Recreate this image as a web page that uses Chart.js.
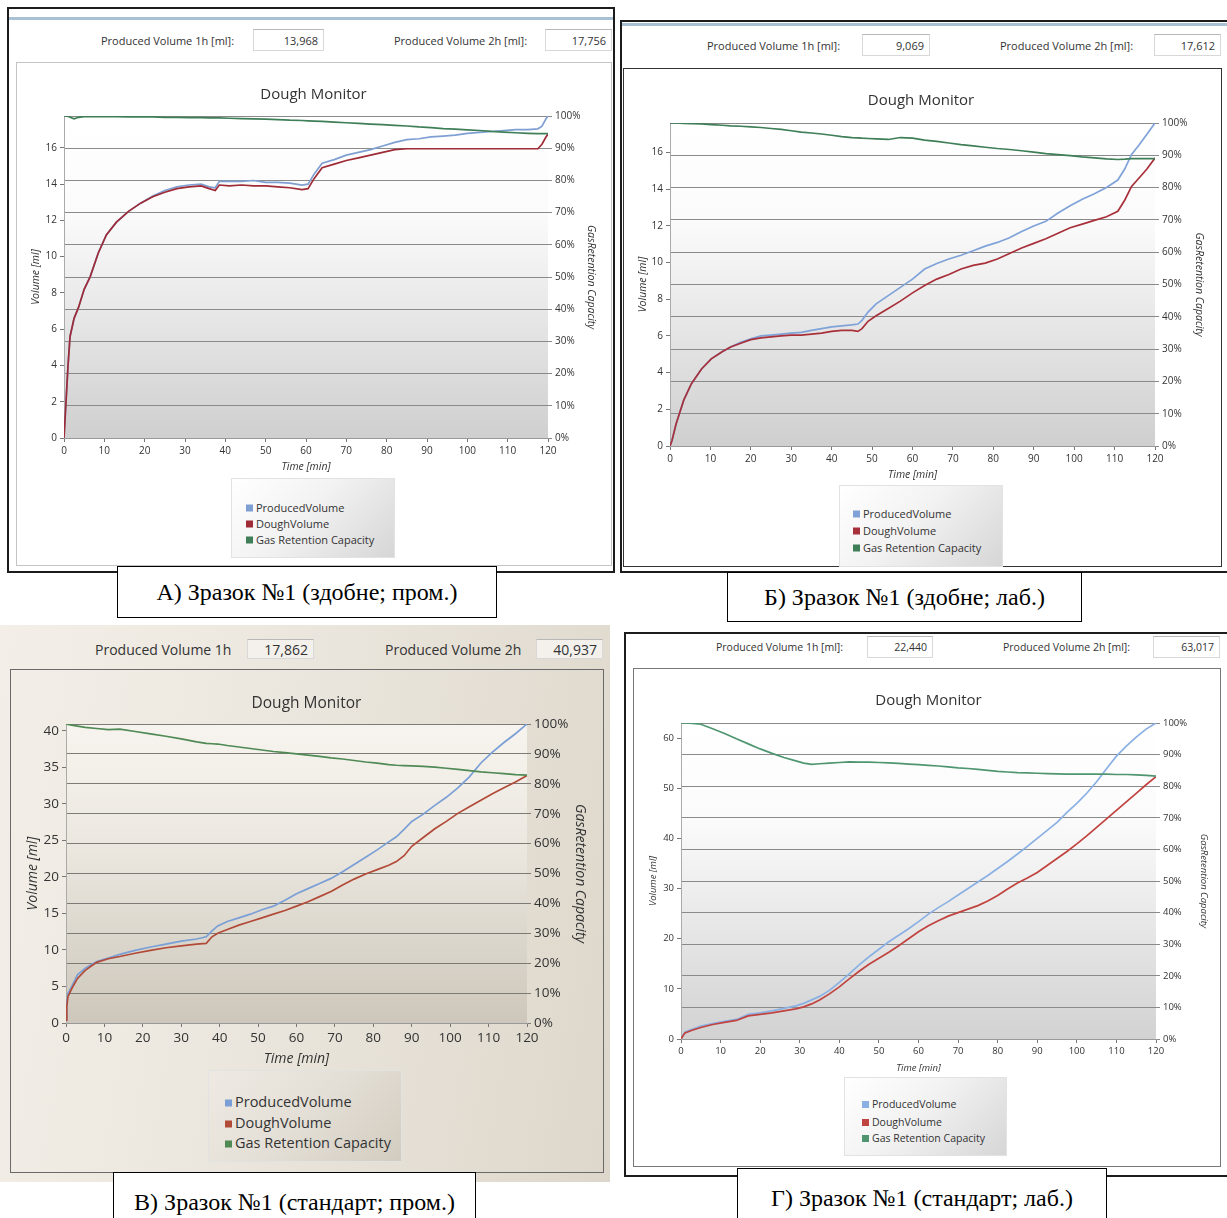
<!DOCTYPE html>
<html>
<head>
<meta charset="utf-8">
<script src="https://cdn.jsdelivr.net/npm/chart.js@4.4.1/dist/chart.umd.min.js"></script>
<style>
  body { margin: 0; width: 1227px; height: 1218px; position: relative; overflow: hidden; background: #fff; font-family: "Open Sans", sans-serif; }
  .box { position: absolute; box-sizing: border-box; }
  .hdr { position: absolute; white-space: nowrap; transform: translateY(-50%); color: #333; }
  .val { position: absolute; box-sizing: border-box; display: flex; align-items: center; justify-content: flex-end; padding-right: 5px; color: #333; }
  .legend { position: absolute; box-sizing: border-box; background: linear-gradient(135deg, #ffffff 0%, #f2f2f2 45%, #d6d6d6 100%); border: 1px solid #e2e2e2; }
  .legend div { position: absolute; white-space: nowrap; transform: translateY(-50%); }
  .legend span { display: inline-block; width: 7px; height: 7px; margin-right: 3px; vertical-align: 0; }
  .caption { position: absolute; box-sizing: border-box; background: #fff; border: 1.5px solid #000; font-family: "Liberation Serif", "Times New Roman", serif; color: #000; display: flex; align-items: center; justify-content: center; white-space: nowrap; }
  canvas { position: absolute; }
</style>
</head>
<body>
<script>
// ---- data ----
const aMinutes  = [0, 0.4, 1, 1.5, 2.5, 3.6, 5, 6.5, 8.5, 10.5, 13, 16, 19, 22, 25, 28, 31, 34, 36, 37.5, 38.5, 41, 44, 47, 50, 53, 56, 59, 60.5, 62, 64, 67, 70, 73, 76, 79, 82, 85, 88, 91, 94, 97, 100, 103, 106, 109, 112, 115, 117.5, 118.5, 119.5, 120];
const aProduced = [0, 1.6, 4.0, 5.6, 6.6, 7.2, 8.2, 8.9, 10.2, 11.2, 11.9, 12.5, 12.95, 13.35, 13.65, 13.85, 13.95, 14.0, 13.85, 13.8, 14.15, 14.15, 14.15, 14.2, 14.1, 14.1, 14.05, 13.95, 14.0, 14.55, 15.15, 15.35, 15.6, 15.75, 15.9, 16.1, 16.3, 16.45, 16.5, 16.6, 16.65, 16.7, 16.8, 16.85, 16.9, 16.95, 17.0, 17.0, 17.05, 17.2, 17.6, 17.756];
const aDough    = [0, 1.6, 4.0, 5.6, 6.6, 7.2, 8.2, 8.9, 10.2, 11.2, 11.9, 12.5, 12.95, 13.3, 13.55, 13.75, 13.85, 13.9, 13.75, 13.65, 13.95, 13.9, 13.95, 13.9, 13.9, 13.85, 13.8, 13.7, 13.75, 14.3, 14.9, 15.1, 15.3, 15.45, 15.6, 15.75, 15.9, 15.95, 15.95, 15.95, 15.95, 15.95, 15.95, 15.95, 15.95, 15.95, 15.95, 15.95, 15.95, 16.2, 16.6, 16.75];
const aGas      = [100, 100, 99.9, 99.6, 99.1, 99.6, 99.8, 99.8, 99.8, 99.8, 99.8, 99.7, 99.7, 99.7, 99.6, 99.6, 99.5, 99.5, 99.4, 99.4, 99.4, 99.3, 99.2, 99.1, 99.0, 98.9, 98.7, 98.6, 98.5, 98.4, 98.3, 98.1, 97.9, 97.7, 97.5, 97.3, 97.1, 96.9, 96.6, 96.4, 96.1, 95.9, 95.7, 95.5, 95.2, 95.0, 94.8, 94.6, 94.5, 94.5, 94.5, 94.5];
const aHeader   = ["13,968", "17,756"];

const bMinutes  = [0, 0.5, 1.5, 3.4, 5.3, 7.8, 10.2, 13, 15, 17.5, 20, 22.5, 25, 27.5, 30, 32.5, 35, 37.5, 40, 42.5, 45, 46.5, 47.5, 49, 51, 54, 57, 60, 63, 66, 69, 72, 75, 78, 81, 84, 87, 90, 93, 96, 99, 102, 105, 108, 110.8, 112.5, 114.2, 116, 118, 120];
const bProduced = [0, 0.3, 1.2, 2.5, 3.4, 4.2, 4.75, 5.15, 5.4, 5.65, 5.85, 6.0, 6.05, 6.1, 6.15, 6.2, 6.3, 6.4, 6.5, 6.55, 6.6, 6.65, 6.85, 7.3, 7.75, 8.2, 8.65, 9.1, 9.65, 9.95, 10.2, 10.4, 10.65, 10.9, 11.1, 11.35, 11.7, 12.0, 12.25, 12.7, 13.1, 13.45, 13.75, 14.1, 14.5, 15.1, 15.9, 16.4, 17.0, 17.612];
const bDough    = [0, 0.3, 1.2, 2.5, 3.4, 4.2, 4.75, 5.15, 5.4, 5.6, 5.8, 5.9, 5.95, 6.0, 6.05, 6.05, 6.1, 6.15, 6.25, 6.3, 6.3, 6.25, 6.4, 6.8, 7.1, 7.5, 7.9, 8.35, 8.75, 9.1, 9.35, 9.65, 9.85, 9.97, 10.2, 10.5, 10.8, 11.05, 11.3, 11.6, 11.9, 12.1, 12.3, 12.5, 12.8, 13.4, 14.15, 14.6, 15.1, 15.7];
const bGas      = [100, 100, 100, 99.9, 99.8, 99.7, 99.5, 99.3, 99.1, 99.0, 98.8, 98.6, 98.3, 98.0, 97.6, 97.2, 96.9, 96.6, 96.2, 95.8, 95.5, 95.4, 95.3, 95.2, 95.1, 94.9, 95.5, 95.3, 94.7, 94.3, 93.8, 93.3, 92.9, 92.5, 92.1, 91.8, 91.4, 91.0, 90.5, 90.2, 89.9, 89.5, 89.2, 88.9, 88.7, 88.8, 89.0, 89.0, 89.0, 89.0];
const bHeader   = ["9,069", "17,612"];

const cMinutes  = [0, 0.2, 0.5, 1.5, 3, 5, 8, 11, 14, 18, 22, 26, 30, 34, 36.5, 38, 39.5, 42, 45, 48, 51, 54, 57, 60, 63, 66, 69, 72, 75, 78, 81, 84, 86, 88, 90, 93, 96, 99, 102, 105, 108, 111, 114, 117, 120];
const cProduced = [0.5, 2.7, 4.0, 5.0, 6.6, 7.5, 8.4, 8.9, 9.4, 9.95, 10.4, 10.8, 11.2, 11.5, 11.8, 12.6, 13.3, 13.9, 14.4, 14.9, 15.5, 16.0, 16.8, 17.7, 18.4, 19.1, 19.8, 20.7, 21.7, 22.7, 23.7, 24.8, 25.5, 26.5, 27.6, 28.6, 29.8, 30.9, 32.2, 33.7, 35.6, 37.1, 38.4, 39.6, 40.937];
const cDough    = [0.4, 2.2, 3.6, 4.7, 6.1, 7.2, 8.3, 8.8, 9.1, 9.55, 9.95, 10.3, 10.55, 10.8, 10.9, 11.8, 12.3, 12.8, 13.4, 13.9, 14.4, 14.9, 15.4, 16.0, 16.6, 17.3, 18.0, 18.9, 19.7, 20.4, 21.0, 21.6, 22.1, 22.9, 24.2, 25.4, 26.6, 27.6, 28.7, 29.6, 30.5, 31.4, 32.2, 33.0, 33.9];
const cGas      = [100, 100, 99.9, 99.6, 99.3, 98.9, 98.5, 98.1, 98.3, 97.5, 96.7, 95.9, 95.0, 94.0, 93.5, 93.4, 93.3, 92.8, 92.3, 91.8, 91.3, 90.8, 90.4, 90.0, 89.6, 89.2, 88.7, 88.3, 87.8, 87.3, 86.9, 86.4, 86.2, 86.1, 86.0, 85.8, 85.6, 85.2, 84.8, 84.4, 84.0, 83.7, 83.4, 83.1, 82.9];
const cHeader   = ["17,862", "40,937"];

const dMinutes  = [0, 0.3, 1, 3, 5, 8, 11, 14, 17, 20, 23, 26, 29, 31, 33, 35, 37.5, 40, 42.5, 45, 47.5, 50, 52.5, 55, 57.5, 60, 62.5, 65, 67.5, 70, 72.5, 75, 77.5, 80, 82.5, 85, 87.5, 90, 92.5, 95, 97.5, 100, 102.5, 105, 107.5, 110, 112.5, 115, 117.5, 120];
const dProduced = [0, 0.4, 1.4, 2.0, 2.6, 3.05, 3.5, 3.9, 4.9, 5.2, 5.6, 6.1, 6.6, 7.1, 7.8, 8.5, 9.7, 11.3, 13.0, 14.8, 16.4, 17.9, 19.4, 20.7, 22.0, 23.4, 24.9, 26.2, 27.4, 28.7, 30.0, 31.3, 32.6, 34.0, 35.4, 36.9, 38.4, 40.0, 41.6, 43.2, 45.2, 47.0, 49.0, 51.3, 53.9, 56.4, 58.4, 60.2, 61.8, 63.017];
const dDough    = [0, 0.4, 1.2, 1.8, 2.3, 2.9, 3.3, 3.7, 4.6, 4.9, 5.2, 5.6, 6.0, 6.4, 7.0, 7.8, 9.0, 10.4, 12.0, 13.5, 14.9, 16.1, 17.3, 18.6, 20.0, 21.4, 22.6, 23.6, 24.5, 25.2, 25.9, 26.6, 27.5, 28.6, 29.9, 31.1, 32.1, 33.2, 34.6, 36.0, 37.4, 38.9, 40.5, 42.2, 43.9, 45.6, 47.3, 49.0, 50.7, 52.3];
const dGas      = [100, 100, 100, 99.9, 99.6, 98.2, 96.7, 95.0, 93.4, 91.8, 90.4, 89.1, 88.0, 87.3, 86.9, 87.1, 87.3, 87.5, 87.7, 87.6, 87.6, 87.5, 87.4, 87.2, 87.0, 86.8, 86.6, 86.4, 86.1, 85.8, 85.6, 85.3, 85.0, 84.7, 84.5, 84.3, 84.2, 84.1, 84.0, 83.9, 83.8, 83.8, 83.8, 83.8, 83.8, 83.7, 83.7, 83.6, 83.4, 83.2];
const dHeader   = ["22,440", "63,017"];

const seriesNames = ["ProducedVolume", "DoughVolume", "Gas Retention Capacity"];
const captions = ["А) Зразок №1 (здобне; пром.)", "Б) Зразок №1 (здобне; лаб.)", "В) Зразок №1 (стандарт; пром.)", "Г) Зразок №1 (стандарт; лаб.)"];

// ---- panel layout (page pixels) ----
const panels = [
  {
    minutes: aMinutes, produced: aProduced, dough: aDough, gas: aGas, header: aHeader, caption: captions[0], yStep: 2,
    hdrLabels: ["Produced Volume 1h [ml]:", "Produced Volume 2h [ml]:"],
    frame: [7, 7, 608, 566], bar: [9, 17, 604, 3], inner: [16, 62, 596, 504, "#c4c4c4"],
    hdrY: 40, hdrX: [101, 394], valX: [[253, 324], [545, 612]], valH: 22, hdrFont: 11,
    plot: { l: 64, r: 548, t: 116, b: 438 }, titleY: 95, leftTitleX: 36, rightTitleX: 591, xTitleY: 467,
    titleFont: 15, tickFont: 10, axisFont: 10.5,
    legend: [231, 478, 164, 80], legendItems: [[14, 28], [14, 44], [14, 60]], legendFont: 11,
    capBox: [117, 566, 380, 52], capFont: 24,
    colors: ["#7f9fd2", "#9e2b36", "#3f7f58"], grid: "#8a8a8a",
    bg: [[0, "#ffffff"], [0.3, "#fbfbfb"], [1, "#cfcfcf"]]
  },
  {
    minutes: bMinutes, produced: bProduced, dough: bDough, gas: bGas, header: bHeader, caption: captions[1], yStep: 2,
    hdrLabels: ["Produced Volume 1h [ml]:", "Produced Volume 2h [ml]:"],
    frame: [620, 20, 610, 553], bar: [622, 23, 605, 3], inner: [623, 68, 599, 499, "#333"],
    hdrY: 45, hdrX: [707, 1000], valX: [[862, 930], [1154, 1221]], valH: 22, hdrFont: 11,
    plot: { l: 670, r: 1155, t: 123, b: 446 }, titleY: 101, leftTitleX: 643, rightTitleX: 1199, xTitleY: 475,
    titleFont: 15, tickFont: 10, axisFont: 10.5,
    legend: [839, 485, 164, 82], legendItems: [[13, 27], [13, 44], [13, 61]], legendFont: 11,
    capBox: [727, 572, 355, 50], capFont: 24,
    colors: ["#7fa2d8", "#a8303a", "#3f7f58"], grid: "#8a8a8a",
    bg: [[0, "#ffffff"], [0.3, "#fbfbfb"], [1, "#cfcfcf"]]
  },
  {
    minutes: cMinutes, produced: cProduced, dough: cDough, gas: cGas, header: cHeader, caption: captions[2], yStep: 5,
    hdrLabels: ["Produced Volume 1h", "Produced Volume 2h"],
    photo: [0, 625, 610, 557], inner: [10, 669, 594, 504, "#6a6a6a"],
    hdrY: 649, hdrX: [95, 385], valX: [[247, 314], [536, 603]], valH: 20, hdrFont: 14,
    plot: { l: 66, r: 527, t: 724, b: 1023 }, titleY: 703, leftTitleX: 33, rightTitleX: 580, xTitleY: 1059,
    titleFont: 15.5, tickFont: 13.5, axisFont: 14,
    legend: [208, 1070, 194, 92], legendItems: [[16, 30], [16, 51], [16, 71]], legendFont: 14.5,
    capBox: [113, 1172, 363, 60], capFont: 24,
    colors: ["#7a9fd6", "#b24a38", "#4f8a55"], grid: "#7d7b76",
    bg: [[0, "#f7f4ef"], [0.4, "#ece8e0"], [1, "#cdc7bb"]]
  },
  {
    minutes: dMinutes, produced: dProduced, dough: dDough, gas: dGas, header: dHeader, caption: captions[3], yStep: 10,
    hdrLabels: ["Produced Volume 1h [ml]:", "Produced Volume 2h [ml]:"],
    frame: [624, 632, 606, 545], inner: [633, 668, 588, 499, "#777"],
    hdrY: 647, hdrX: [716, 1003], valX: [[867, 933], [1153, 1220]], valH: 22, hdrFont: 10.5,
    plot: { l: 681, r: 1156, t: 723, b: 1039 }, titleY: 701, leftTitleX: 654, rightTitleX: 1203, xTitleY: 1068,
    titleFont: 15, tickFont: 9.5, axisFont: 9.5,
    legend: [844, 1077, 163, 79], legendItems: [[17, 26], [17, 44], [17, 60]], legendFont: 10.5,
    capBox: [737, 1168, 370, 60], capFont: 24,
    colors: ["#8ab0e4", "#c0433f", "#4f9670"], grid: "#8a8a8a",
    bg: [[0, "#ffffff"], [0.3, "#fbfbfb"], [1, "#d2d2d2"]]
  }
];

Chart.defaults.font.family = "'Open Sans', sans-serif";
Chart.defaults.color = "#333";

const plotBg = {
  id: "plotBg",
  beforeDraw(chart, args, opts) {
    const { ctx, chartArea: a } = chart;
    const g = ctx.createLinearGradient(0, a.top, 0, a.bottom);
    opts.stops.forEach(s => g.addColorStop(s[0], s[1]));
    ctx.save();
    ctx.fillStyle = g;
    ctx.fillRect(a.left, a.top, a.right - a.left, a.bottom - a.top);
    ctx.restore();
  }
};

function el(cls, css, text) {
  const d = document.createElement("div");
  d.className = cls;
  Object.assign(d.style, css);
  if (text !== undefined) d.textContent = text;
  document.body.appendChild(d);
  return d;
}

function px(v) { return v + "px"; }

function points(xs, ys) {
  return xs.map((x, i) => ({ x, y: ys[i] }));
}

function buildPanel(p) {
  if (p.photo) {
    el("box", { left: px(p.photo[0]), top: px(p.photo[1]), width: px(p.photo[2]), height: px(p.photo[3]),
      background: "linear-gradient(100deg, #f3efe8 0%, #ebe6dd 45%, #ddd7cb 100%)" });
  }
  if (p.frame) {
    el("box", { left: px(p.frame[0]), top: px(p.frame[1]), width: px(p.frame[2]), height: px(p.frame[3]), border: "2px solid #1c1c1c" });
  }
  if (p.bar) {
    el("box", { left: px(p.bar[0]), top: px(p.bar[1]), width: px(p.bar[2]), height: px(p.bar[3]), background: "#a9bfd2" });
  }
  el("box", { left: px(p.inner[0]), top: px(p.inner[1]), width: px(p.inner[2]), height: px(p.inner[3]), border: "1px solid " + p.inner[4] });

  // header: produced volume after 1h / 2h
  p.hdrLabels.forEach((t, i) => {
    el("hdr", { left: px(p.hdrX[i]), top: px(p.hdrY), fontSize: px(p.hdrFont) }, t);
    const v = el("val", { left: px(p.valX[i][0]), width: px(p.valX[i][1] - p.valX[i][0]), top: px(p.hdrY - p.valH / 2), height: px(p.valH),
      fontSize: px(p.hdrFont), border: "1px solid #d8d8d8", borderTopColor: "#b8b8b8",
      background: p.photo ? "#f4f1ec" : "#fff" }, p.header[i]);
  });

  // canvas geometry derived from plot rectangle and title positions
  const tLH = p.titleFont * 1.2, aLH = p.axisFont * 1.2;
  const left = Math.round(p.leftTitleX - aLH / 2);
  const right = Math.round(p.rightTitleX + aLH / 2);
  const top = Math.round(p.titleY - tLH / 2 - 4);
  const bottom = Math.round(p.xTitleY + aLH / 2);
  const lw = p.plot.l - left, rw = right - p.plot.r, xh = bottom - p.plot.b;
  const padBottom = p.plot.t - top - 4 - tLH;

  const canvas = document.createElement("canvas");
  canvas.width = right - left;
  canvas.height = bottom - top;
  canvas.style.left = px(left);
  canvas.style.top = px(top);
  document.body.appendChild(canvas);

  const tickFont = { size: p.tickFont };
  const axTitle = (text) => ({ display: true, text, padding: 0, color: "#333", font: { size: p.axisFont, style: "italic" } });
  const yMax = p.produced[p.produced.length - 1];

  new Chart(canvas, {
    type: "line",
    data: {
      datasets: [
        { label: seriesNames[0], data: points(p.minutes, p.produced), borderColor: p.colors[0], yAxisID: "y", order: 2 },
        { label: seriesNames[1], data: points(p.minutes, p.dough), borderColor: p.colors[1], yAxisID: "y", order: 1 },
        { label: seriesNames[2], data: points(p.minutes, p.gas), borderColor: p.colors[2], yAxisID: "y2", order: 0 }
      ]
    },
    options: {
      responsive: false,
      animation: false,
      elements: { point: { radius: 0 }, line: { borderWidth: 1.7, tension: 0 } },
      plugins: {
        legend: { display: false },
        tooltip: { enabled: false },
        title: { display: true, text: "Dough Monitor", color: "#333", font: { size: p.titleFont, weight: "normal" }, padding: { top: 4, bottom: padBottom } },
        plotBg: { stops: p.bg }
      },
      scales: {
        x: {
          type: "linear", min: 0, max: 120,
          ticks: { stepSize: 10, font: tickFont, padding: 3, maxRotation: 0 },
          grid: { drawOnChartArea: false, tickLength: 4, color: "#777" },
          border: { color: "#999" },
          title: axTitle("Time [min]"),
          afterFit: s => { s.height = xh; }
        },
        y: {
          position: "left", min: 0, max: yMax,
          ticks: { stepSize: p.yStep, includeBounds: false, font: tickFont, padding: 3 },
          grid: { drawOnChartArea: false, tickLength: 4, color: "#777" },
          border: { color: "#aaa" },
          title: axTitle("Volume [ml]"),
          afterFit: s => { s.width = lw; }
        },
        y2: {
          position: "right", min: 0, max: 100,
          ticks: { stepSize: 10, font: tickFont, padding: 3, callback: v => v + "%" },
          grid: { color: p.grid, tickLength: 4, lineWidth: 1 },
          border: { display: false },
          title: axTitle("GasRetention Capacity"),
          afterFit: s => { s.width = rw; }
        }
      }
    },
    plugins: [plotBg]
  });

  // legend box
  const lg = el("legend", { left: px(p.legend[0]), top: px(p.legend[1]), width: px(p.legend[2]), height: px(p.legend[3]), fontSize: px(p.legendFont), color: "#333" });
  if (p.photo) lg.style.background = "linear-gradient(135deg, #eeeae3 0%, #e4dfd6 50%, #d2ccc0 100%)";
  seriesNames.forEach((name, i) => {
    const row = document.createElement("div");
    row.style.left = px(p.legendItems[i][0]);
    row.style.top = px(p.legendItems[i][1]);
    const sq = document.createElement("span");
    sq.style.background = p.colors[i];
    row.appendChild(sq);
    row.appendChild(document.createTextNode(name));
    lg.appendChild(row);
  });

  el("caption", { left: px(p.capBox[0]), top: px(p.capBox[1]), width: px(p.capBox[2]), height: px(p.capBox[3]), fontSize: px(p.capFont) }, p.caption);
}

panels.forEach(buildPanel);
</script>
</body>
</html>
